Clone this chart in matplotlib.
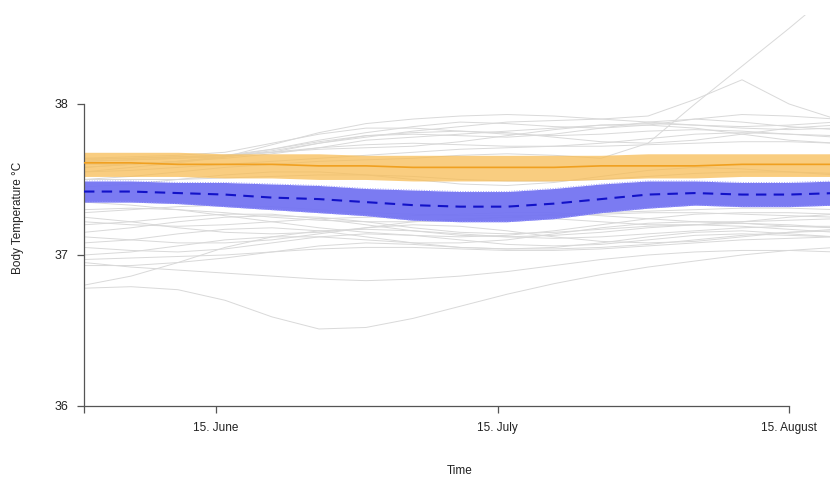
import numpy as np
import matplotlib
matplotlib.use("Agg")
import matplotlib.pyplot as plt

plt.rcParams['font.family'] = ['Liberation Sans', 'DejaVu Sans']

# days since 1 June, one value every 5 days
days = np.arange(0, 81, 5)

tick_days = [0, 14, 44, 75]
tick_labels = ["", "15. June", "15. July", "15. August"]

# individual animals, body temperature (°C)
upper_traces = [
    [37.62, 37.63, 37.64, 37.66, 37.70, 37.76, 37.81, 37.85, 37.88, 37.87, 37.85, 37.84, 37.86, 37.90, 37.93, 37.92, 37.90],
    [37.62, 37.63, 37.64, 37.65, 37.68, 37.74, 37.79, 37.80, 37.79, 37.78, 37.80, 37.84, 37.88, 37.90, 37.88, 37.85, 37.83],
    [37.60, 37.60, 37.62, 37.64, 37.67, 37.71, 37.76, 37.78, 37.80, 37.82, 37.84, 37.86, 37.87, 37.86, 37.84, 37.83, 37.84],
    [37.58, 37.60, 37.62, 37.65, 37.69, 37.74, 37.78, 37.82, 37.85, 37.88, 37.89, 37.90, 37.92, 38.03, 38.16, 38.00, 37.90],
    [37.50, 37.52, 37.55, 37.58, 37.60, 37.62, 37.63, 37.64, 37.66, 37.67, 37.66, 37.64, 37.74, 38.00, 38.25, 38.50, 38.76],
    [37.64, 37.65, 37.66, 37.68, 37.74, 37.80, 37.84, 37.84, 37.82, 37.80, 37.79, 37.80, 37.82, 37.83, 37.82, 37.80, 37.78],
    [37.58, 37.60, 37.62, 37.65, 37.70, 37.75, 37.79, 37.81, 37.82, 37.81, 37.78, 37.75, 37.74, 37.76, 37.80, 37.84, 37.86],
    [37.55, 37.58, 37.61, 37.65, 37.73, 37.81, 37.87, 37.90, 37.92, 37.93, 37.92, 37.90, 37.88, 37.86, 37.85, 37.86, 37.88],
    [37.64, 37.64, 37.65, 37.66, 37.68, 37.71, 37.73, 37.74, 37.73, 37.72, 37.72, 37.74, 37.77, 37.80, 37.81, 37.80, 37.79],
    [37.63, 37.64, 37.65, 37.66, 37.68, 37.70, 37.71, 37.72, 37.75, 37.79, 37.83, 37.86, 37.86, 37.84, 37.80, 37.76, 37.74],
    [37.55, 37.56, 37.58, 37.60, 37.62, 37.64, 37.66, 37.68, 37.70, 37.71, 37.72, 37.72, 37.73, 37.74, 37.75, 37.75, 37.74],
]
middle_traces = [
    [37.50, 37.50, 37.50, 37.51, 37.52, 37.53, 37.53, 37.52, 37.50, 37.49, 37.49, 37.50, 37.52, 37.54, 37.55, 37.55, 37.54],
    [37.45, 37.47, 37.50, 37.53, 37.55, 37.55, 37.53, 37.50, 37.47, 37.46, 37.48, 37.52, 37.56, 37.58, 37.57, 37.55, 37.53],
]
lower_traces = [
    [37.30, 37.31, 37.30, 37.28, 37.25, 37.23, 37.22, 37.22, 37.23, 37.25, 37.27, 37.28, 37.29, 37.30, 37.31, 37.31, 37.30],
    [37.25, 37.22, 37.18, 37.15, 37.14, 37.15, 37.18, 37.22, 37.24, 37.25, 37.24, 37.22, 37.20, 37.20, 37.22, 37.25, 37.27],
    [37.20, 37.22, 37.25, 37.27, 37.27, 37.24, 37.20, 37.16, 37.13, 37.12, 37.13, 37.15, 37.18, 37.20, 37.21, 37.20, 37.18],
    [37.15, 37.18, 37.22, 37.25, 37.26, 37.25, 37.22, 37.18, 37.15, 37.14, 37.15, 37.17, 37.19, 37.20, 37.19, 37.17, 37.15],
    [37.12, 37.10, 37.08, 37.08, 37.10, 37.14, 37.18, 37.20, 37.19, 37.16, 37.12, 37.09, 37.08, 37.09, 37.12, 37.15, 37.17],
    [37.08, 37.10, 37.14, 37.17, 37.18, 37.16, 37.12, 37.08, 37.05, 37.04, 37.05, 37.08, 37.12, 37.15, 37.16, 37.14, 37.12],
    [37.05, 37.03, 37.02, 37.04, 37.08, 37.12, 37.14, 37.13, 37.10, 37.07, 37.06, 37.07, 37.10, 37.13, 37.14, 37.13, 37.12],
    [36.97, 36.98, 36.99, 37.00, 37.02, 37.04, 37.05, 37.05, 37.04, 37.03, 37.03, 37.04, 37.06, 37.08, 37.10, 37.11, 37.12],
    [36.93, 36.93, 36.95, 36.98, 37.02, 37.06, 37.08, 37.07, 37.05, 37.04, 37.04, 37.05, 37.07, 37.10, 37.13, 37.15, 37.16],
    [36.80, 36.86, 36.95, 37.05, 37.12, 37.16, 37.17, 37.16, 37.14, 37.12, 37.11, 37.12, 37.14, 37.16, 37.18, 37.19, 37.19],
    [36.78, 36.79, 36.77, 36.70, 36.59, 36.51, 36.52, 36.58, 36.66, 36.74, 36.81, 36.87, 36.92, 36.96, 37.00, 37.03, 37.05],
    [36.95, 36.92, 36.90, 36.88, 36.86, 36.84, 36.83, 36.84, 36.86, 36.89, 36.93, 36.97, 37.00, 37.02, 37.03, 37.03, 37.02],
    [37.35, 37.33, 37.30, 37.26, 37.22, 37.18, 37.15, 37.13, 37.12, 37.13, 37.16, 37.20, 37.24, 37.27, 37.28, 37.28, 37.27],
    [37.28, 37.30, 37.32, 37.33, 37.32, 37.30, 37.28, 37.27, 37.26, 37.26, 37.26, 37.27, 37.28, 37.28, 37.27, 37.26, 37.25],
    [37.22, 37.20, 37.19, 37.20, 37.22, 37.24, 37.25, 37.26, 37.27, 37.28, 37.28, 37.26, 37.24, 37.22, 37.22, 37.23, 37.24],
    [37.00, 37.02, 37.06, 37.10, 37.12, 37.12, 37.10, 37.08, 37.08, 37.10, 37.14, 37.18, 37.21, 37.22, 37.21, 37.19, 37.18],
]

# group means with their bands
orange_mean = [37.61, 37.61, 37.60, 37.60, 37.60, 37.59, 37.59, 37.58, 37.58, 37.58, 37.58, 37.59, 37.59, 37.59, 37.60, 37.60, 37.60]
orange_lo   = [37.52, 37.52, 37.52, 37.51, 37.51, 37.50, 37.50, 37.49, 37.49, 37.49, 37.49, 37.50, 37.51, 37.51, 37.52, 37.52, 37.52]
orange_hi   = [37.68, 37.68, 37.68, 37.67, 37.67, 37.67, 37.66, 37.66, 37.66, 37.66, 37.66, 37.66, 37.67, 37.67, 37.67, 37.67, 37.67]

blue_mean = [37.42, 37.42, 37.41, 37.40, 37.38, 37.37, 37.35, 37.33, 37.32, 37.32, 37.34, 37.37, 37.40, 37.41, 37.40, 37.40, 37.41]
blue_lo   = [37.35, 37.35, 37.34, 37.32, 37.30, 37.28, 37.26, 37.23, 37.22, 37.22, 37.24, 37.28, 37.31, 37.33, 37.32, 37.32, 37.33]
blue_hi   = [37.49, 37.49, 37.48, 37.48, 37.47, 37.46, 37.44, 37.43, 37.42, 37.42, 37.44, 37.47, 37.49, 37.49, 37.48, 37.48, 37.49]

fig = plt.figure(figsize=(8.3, 4.78), dpi=100)
ax = fig.add_axes([84/830, 72/478, 752/830, 391/478])

for tr in upper_traces + middle_traces + lower_traces:
    ax.plot(days, tr, color="#d9d9d9", lw=0.7, zorder=1)

ax.fill_between(days, orange_lo, orange_hi, color="#f8bd55", alpha=0.75, lw=0, zorder=2)
ax.plot(days, orange_mean, color="#f0a020", lw=1.2, zorder=3)

ax.fill_between(days, blue_lo, blue_hi, color="#7474f2", alpha=0.95, lw=0, zorder=2)
ax.plot(days, blue_lo, color="#a0a0ff", lw=0.7, ls=":", zorder=2)
ax.plot(days, blue_hi, color="#a0a0ff", lw=0.7, ls=":", zorder=2)
ax.plot(days, blue_mean, color="#1212c8", lw=1.5, ls=(0, (5, 3.5)), zorder=3)

ax.set_xlim(0, 80)
ax.set_ylim(36, 38.589)

for s in ["top", "right"]:
    ax.spines[s].set_visible(False)
ax.spines["left"].set_bounds(36, 38)
ax.spines["bottom"].set_bounds(0, 75)
for s in ["left", "bottom"]:
    ax.spines[s].set_color("#555555")
    ax.spines[s].set_linewidth(0.9)

ax.set_yticks([36, 37, 38])
ax.set_xticks(tick_days)
ax.set_xticklabels(tick_labels)
ax.tick_params(axis="both", length=4.8, width=0.9, color="#555555",
               labelsize=8.5, labelcolor="#222222", pad=6.5)
ax.tick_params(axis="y", labelsize=9)

fig.text(460/830, 1 - 471/478, "Time", ha="center", va="center", fontsize=8.5, color="#222222")
fig.text(18/830, 1 - 218/478, "Body Temperature °C", ha="center", va="center",
         rotation=90, fontsize=8.5, color="#222222")

fig.savefig("out.png", dpi=100)
